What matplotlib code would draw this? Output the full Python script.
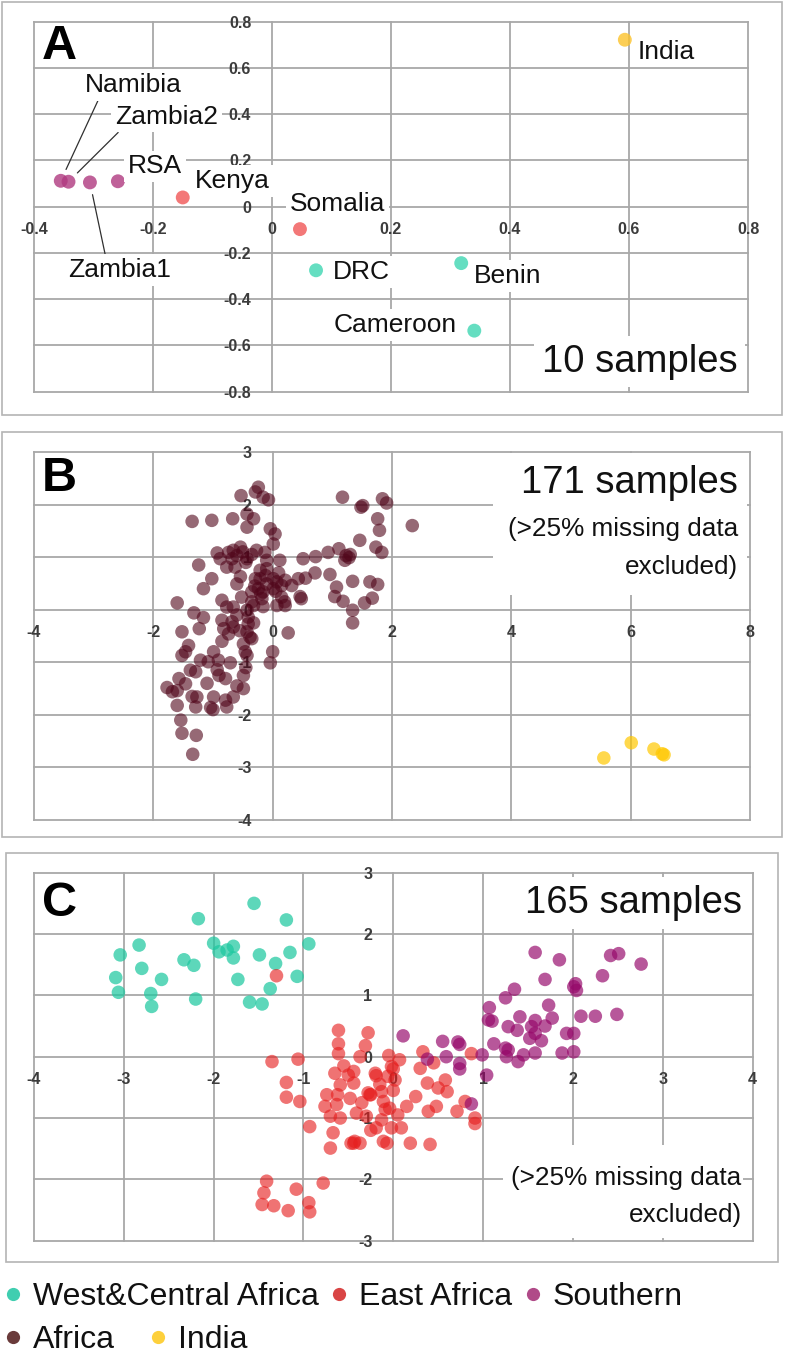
import matplotlib.pyplot as plt
from matplotlib.lines import Line2D
from matplotlib.patches import Rectangle
from matplotlib.ticker import FuncFormatter

plt.rcParams['font.family'] = ['Liberation Sans', 'DejaVu Sans']

# ---------------- data ----------------
# panel A (10 samples)
a_names = ['Namibia', 'Zambia2', 'Zambia1', 'RSA', 'Kenya', 'Somalia',
           'DRC', 'Benin', 'Cameroon', 'India']
a_group = ['S', 'S', 'S', 'S', 'E', 'E', 'W', 'W', 'W', 'I']
a_x = [-0.355, -0.342, -0.306, -0.259, -0.150, 0.047, 0.074, 0.318, 0.340, 0.593]
a_y = [0.112, 0.108, 0.105, 0.110, 0.040, -0.097, -0.275, -0.244, -0.536, 0.722]
a_lab_x = [-0.314, -0.264, -0.343, -0.242, -0.129, 0.030, 0.103, 0.339, 0.104, 0.615]
a_lab_y = [0.527, 0.390, -0.275, 0.174, 0.110, 0.013, -0.284, -0.300, -0.510, 0.671]
a_xticks = [-0.4, -0.2, 0, 0.2, 0.4, 0.6, 0.8]
a_yticks = [-0.8, -0.6, -0.4, -0.2, 0, 0.2, 0.4, 0.6, 0.8]

# panel B (171 samples): Africa + India
b_africa = [
    (-0.24, 2.33), (-0.29, 2.24), (-0.16, 2.14), (-0.07, 2.09), (-0.53, 2.17), (1.17, 2.14),
    (1.51, 1.98), (1.48, 1.95), (1.84, 2.11), (1.91, 2.03), (2.34, 1.60),
    (-1.35, 1.68), (-1.02, 1.70), (-0.67, 1.73), (-0.43, 1.82), (-0.32, 1.73), (-0.43, 1.57),
    (-0.04, 1.54), (0.04, 1.44), (0.01, 1.25),
    (1.76, 1.73), (1.79, 1.51), (1.46, 1.32), (1.73, 1.19), (1.83, 1.09),
    (-0.27, 1.13), (-0.13, 1.09), (-0.54, 1.19), (-0.66, 1.13), (-0.74, 1.09), (-0.93, 1.08),
    (-0.60, 1.03), (-0.68, 0.97), (-0.43, 0.97), (0.12, 0.94),
    (0.51, 0.97), (0.72, 1.01), (0.93, 1.09), (1.11, 1.16), (1.23, 1.03), (1.21, 0.94), (1.28, 0.99),
    (-1.24, 0.85), (-0.77, 0.81), (-0.63, 0.81), (-0.10, 0.78), (-0.54, 0.63), (-1.02, 0.59),
    (-0.60, 0.49), (-1.16, 0.40),
    (-0.21, 0.59), (0.01, 0.59), (0.07, 0.53), (-0.10, 0.49), (-0.24, 0.40), (-0.16, 0.34),
    (-0.35, 0.34), (0.21, 0.56), (0.43, 0.59), (0.32, 0.46),
    (0.71, 0.70), (0.96, 0.67), (1.07, 0.43), (1.34, 0.54), (1.63, 0.53), (1.76, 0.48),
    (1.04, 0.25), (1.18, 0.16), (1.54, 0.13), (1.67, 0.22), (1.34, -0.01), (1.34, -0.25),
    (0.46, 0.25), (0.48, 0.21), (0.15, 0.24), (0.21, 0.08), (0.07, 0.08), (-0.16, 0.06),
    (-0.32, 0.08), (-0.85, 0.18), (-1.60, 0.13), (-0.66, 0.05), (-0.77, 0.05), (-0.43, -0.01),
    (-1.32, -0.06), (-1.16, -0.15), (-0.85, -0.20), (-0.68, -0.23), (-0.66, -0.33), (-0.41, -0.27),
    (-0.32, -0.25), (-0.82, -0.36), (-0.74, -0.46), (-1.23, -0.36), (-1.52, -0.42),
    (-0.43, -0.42), (-0.38, -0.52), (0.26, -0.44), (-0.49, -0.65), (-1.41, -0.68), (-1.46, -0.80),
    (-0.46, -0.80), (-1.52, -0.87), (-0.99, -0.80), (-1.21, -0.96), (-1.08, -0.99),
    (-0.91, -0.96), (-0.71, -1.01), (-0.43, -0.87), (0.00, -0.80), (-0.04, -1.01), (-1.38, -1.15),
    (-1.29, -1.18), (-0.93, -1.14), (-0.79, -1.31), (-0.49, -1.25), (-1.57, -1.31),
    (-1.46, -1.41), (-1.77, -1.48), (-1.68, -1.56), (-1.60, -1.54), (-1.27, -1.66), (-0.99, -1.66),
    (-0.79, -1.72), (-0.66, -1.66), (-0.49, -1.50), (-1.60, -1.82), (-1.29, -1.85),
    (-1.04, -1.86), (-0.77, -1.85), (-1.54, -2.10), (-1.52, -2.35), (-1.28, -2.39), (-1.34, -2.75),
    (-0.29, 0.59), (-0.21, 0.75), (-0.10, 0.94), (0.15, 0.46), (0.01, 0.40), (-0.18, 0.21),
    (-0.35, 0.15), (-0.52, 0.24), (-0.88, 0.97), (-0.41, -0.14),
    (-0.35, 1.05), (-0.50, 1.10), (-0.45, 0.90), (-0.20, 0.30), (-0.30, 0.45), (0.05, 0.35),
    (-0.12, 0.65), (0.10, 0.70), (-0.60, -0.10), (-0.55, -0.40), (-0.35, -0.55),
    (-0.45, -1.10), (-0.90, -1.25), (-1.10, -1.40), (-1.35, -1.65), (-0.60, -1.45), (-1.00, -1.90),
    (-0.85, -0.60), (0.20, 0.15), (0.55, 0.60), (1.30, 1.05),
]
b_india = [(5.55, -2.82), (6.01, -2.53), (6.39, -2.65), (6.53, -2.74), (6.56, -2.76)]
b_xticks = [-4, -2, 0, 2, 4, 6, 8]
b_yticks = [-4, -3, -2, -1, 0, 1, 2, 3]

# panel C (165 samples)
c_west = [
    (-1.55, 2.50), (-2.17, 2.25), (-1.19, 2.23), (-2.83, 1.82), (-3.04, 1.66), (-2.00, 1.85),
    (-1.94, 1.71), (-1.85, 1.74), (-1.78, 1.80), (-1.78, 1.61), (-1.49, 1.66), (-1.15, 1.70),
    (-0.94, 1.84), (-1.31, 1.52), (-2.33, 1.58), (-2.22, 1.49), (-2.80, 1.44), (-3.09, 1.29),
    (-2.58, 1.26), (-1.73, 1.26), (-1.07, 1.31), (-3.06, 1.05), (-2.70, 1.03), (-2.69, 0.82),
    (-2.20, 0.94), (-1.60, 0.89), (-1.46, 0.86), (-1.37, 1.11),
]
c_east = [
    (-1.35, -0.08), (-1.06, -0.04), (-1.19, -0.42), (-1.19, -0.66), (-1.04, -0.73), (-0.93, -1.14),
    (-0.61, 0.43), (-0.61, 0.21), (-0.61, 0.05), (-0.28, 0.39), (-0.31, 0.18), (-0.37, 0.00),
    (-0.65, -0.27), (-0.44, -0.24), (-0.59, -0.46), (-0.44, -0.43), (-0.19, -0.31), (-0.74, -0.62),
    (-0.76, -0.81), (-0.63, -0.78), (-0.48, -0.68), (-0.26, -0.62), (-0.11, -0.73), (-0.70, -0.97),
    (-0.59, -1.00), (-0.41, -0.92), (-0.30, -0.97), (-0.19, -1.16), (-0.67, -1.24), (-0.70, -1.49),
    (-0.44, -1.41), (-0.37, -1.41), (-0.07, -1.41), (-1.30, 1.32),
    (-1.41, -2.03), (-1.44, -2.22), (-1.46, -2.41), (-1.33, -2.43), (-1.17, -2.51), (-1.08, -2.16),
    (-0.94, -2.38), (-0.93, -2.53), (-0.78, -2.06),
    (-0.02, -0.16), (0.07, -0.05), (-0.06, -0.32), (0.02, -0.38), (0.30, -0.19), (0.33, 0.08),
    (0.38, -0.43), (0.50, -0.51), (0.58, -0.38), (0.60, -0.57), (0.15, -0.81), (0.39, -0.89),
    (0.48, -0.81), (0.71, -0.89), (0.80, -0.73), (0.91, -1.00), (0.91, -1.09), (0.87, 0.05),
    (0.19, -1.41), (0.41, -1.43), (-0.13, -0.57), (-0.28, -0.59), (-0.09, -0.86), (-0.04, -0.84),
    (-0.13, -1.03), (-0.02, -1.16), (0.09, -1.16), (-0.11, -1.38), (-0.43, -1.38), (-0.20, -0.27),
    (-0.25, -0.62), (-0.62, -0.62), (-0.05, 0.02), (0.00, -0.55), (-0.35, -0.75), (-0.50, -0.30),
    (-0.15, -0.45), (0.25, -0.65), (0.05, -0.95), (-0.25, -1.20), (-0.55, -0.15), (0.45, -0.10),
    (-0.47, -1.41), (0.00, -0.20),
]
c_south = [
    (1.58, 1.70), (1.85, 1.58), (2.42, 1.65), (2.51, 1.68), (2.76, 1.51), (1.69, 1.26),
    (2.33, 1.32), (2.03, 1.19), (2.04, 1.08), (2.01, 1.14), (1.35, 1.10), (1.25, 0.96),
    (1.07, 0.80), (1.73, 0.84), (2.09, 0.66), (2.25, 0.66), (2.49, 0.69), (1.77, 0.63),
    (1.41, 0.65), (1.58, 0.59), (1.69, 0.50), (1.10, 0.58), (1.06, 0.60), (1.28, 0.49),
    (1.38, 0.43), (1.54, 0.49), (1.58, 0.38), (1.52, 0.30), (1.65, 0.26), (1.93, 0.38),
    (2.01, 0.38), (1.12, 0.21), (1.25, 0.14), (1.28, 0.11), (1.26, 0.00), (1.39, -0.08),
    (1.45, 0.03), (1.58, 0.06), (1.88, 0.06), (2.01, 0.08), (0.11, 0.34), (0.38, -0.04),
    (0.55, 0.25), (0.72, 0.24), (0.74, 0.20), (0.59, 0.00), (0.74, -0.11), (0.74, -0.20),
    (0.99, 0.03), (1.04, -0.30), (0.87, -0.77),
]
c_xticks = [-4, -3, -2, -1, 0, 1, 2, 3, 4]
c_yticks = [-3, -2, -1, 0, 1, 2, 3]

leg_labels = ['West&Central Africa', 'East Africa', 'Southern', 'Africa', 'India']
leg_colors = ['#40ceb0', '#d94545', '#b04a88', '#6a3b3b', '#fdd03c']

# colours used on the plots
col_a = {'W': '#3ed6b2', 'E': '#f05656', 'S': '#b03a80', 'I': '#fcc22a'}
col_africa = '#50051a'
col_india = '#ffc800'
col_west = '#1ec8a0'
col_east = '#e61e1e'
col_south = '#96086a'

# ---------------- figure ----------------
W, H = 786, 1355
fig = plt.figure(figsize=(W / 100, H / 100), dpi=100)


def rect(x0, y0, x1, y1):
    return [x0 / W, 1 - y1 / H, (x1 - x0) / W, (y1 - y0) / H]


def frame(x0, y0, x1, y1):
    r = rect(x0, y0, x1, y1)
    fig.add_artist(Rectangle((r[0], r[1]), r[2], r[3], transform=fig.transFigure,
                             fill=False, ec='#b4b4b4', lw=1.2))


def setup(ax, xticks, yticks):
    ax.set_xlim(xticks[0], xticks[-1])
    ax.set_ylim(yticks[0], yticks[-1])
    ax.set_xticks(xticks)
    ax.set_yticks(yticks)
    fmt = FuncFormatter(lambda v, p: f'{v:g}')
    ax.xaxis.set_major_formatter(fmt)
    ax.yaxis.set_major_formatter(fmt)
    ax.spines['left'].set_position(('data', 0))
    ax.spines['bottom'].set_position(('data', 0))
    for s in ax.spines.values():
        s.set_visible(False)
    ax.grid(True, color='#a8a8a8', lw=1.3)
    for l in ax.get_xgridlines() + ax.get_ygridlines():
        l.set_clip_on(False)
    ax.set_axisbelow(True)
    ax.tick_params(length=0, labelsize=11.5, labelcolor='#3c3c3c')
    for lab in ax.get_xticklabels() + ax.get_yticklabels():
        lab.set_fontweight('bold')
    ax.tick_params(axis='x', pad=11)
    ax.tick_params(axis='y', pad=15)
    ax.set_facecolor('none')


def white_patch(ax, x0, y0, x1, y1):
    ax.add_patch(Rectangle((x0, y0), x1 - x0, y1 - y0, transform=ax.transAxes,
                           fc='white', ec='none', zorder=2, clip_on=False))


box = dict(boxstyle='square,pad=0.15', fc='white', ec='none')

# ---- panel A ----
frame(2, 2, 782, 415)
axA = fig.add_axes(rect(34, 21.7, 748, 391.7))
setup(axA, a_xticks, a_yticks)
axA.scatter(a_x, a_y, s=100, c=[col_a[g] for g in a_group], alpha=0.8,
            edgecolors='none', zorder=3)
leaders = {'Namibia': (0.15, 0), 'Zambia2': (0.07, 0), 'Zambia1': (0.37, 1)}
for i, name in enumerate(a_names):
    kw = {}
    if name in leaders:
        kw['arrowprops'] = dict(arrowstyle='-', color='#303030', lw=0.9,
                                relpos=leaders[name], shrinkA=0, shrinkB=9)
    axA.annotate(name, xy=(a_x[i], a_y[i]), xytext=(a_lab_x[i], a_lab_y[i]),
                 ha='left', va='center', fontsize=19, color='#111111',
                 bbox=box, zorder=4, **kw)
axA.text(0.011, 0.932, 'A', transform=axA.transAxes, fontsize=35,
         fontweight='bold', ha='left', va='center')
axA.text(0.985, 0.081, '10 samples', transform=axA.transAxes, fontsize=27.5,
         ha='right', va='center', color='#111111',
         bbox=dict(boxstyle='square,pad=0.2', fc='white', ec='none'))

# ---- panel B ----
frame(2, 432, 782, 837)
axB = fig.add_axes(rect(34, 452, 750, 820))
setup(axB, b_xticks, b_yticks)
white_patch(axB, 0.641, 0.611, 0.996, 0.998)
axB.scatter([p[0] for p in b_africa], [p[1] for p in b_africa], s=95,
            color=col_africa, alpha=0.6, edgecolors='none', zorder=3)
axB.scatter([p[0] for p in b_india], [p[1] for p in b_india], s=95,
            color=col_india, alpha=0.7, edgecolors='none', zorder=3)
axB.text(0.011, 0.929, 'B', transform=axB.transAxes, fontsize=35,
         fontweight='bold', ha='left', va='center')
axB.text(0.983, 0.916, '171 samples', transform=axB.transAxes, fontsize=27.5,
         ha='right', va='center', color='#111111', zorder=5)
axB.text(0.983, 0.74, '(>25% missing data\nexcluded)', transform=axB.transAxes,
         fontsize=18.8, ha='right', va='center', multialignment='right',
         linespacing=1.72, color='#111111', zorder=5)

# ---- panel C ----
frame(6, 853, 778, 1262)
axC = fig.add_axes(rect(34, 872.7, 752.5, 1240.7))
setup(axC, c_xticks, c_yticks)
white_patch(axC, 0.653, 0.007, 0.987, 0.26)
axC.scatter([p[0] for p in c_west], [p[1] for p in c_west], s=95,
            color=col_west, alpha=0.72, edgecolors='none', zorder=3)
axC.scatter([p[0] for p in c_east], [p[1] for p in c_east], s=95,
            color=col_east, alpha=0.62, edgecolors='none', zorder=3)
axC.scatter([p[0] for p in c_south], [p[1] for p in c_south], s=95,
            color=col_south, alpha=0.68, edgecolors='none', zorder=3)
axC.text(0.011, 0.915, 'C', transform=axC.transAxes, fontsize=35,
         fontweight='bold', ha='left', va='center')
axC.text(0.985, 0.918, '165 samples', transform=axC.transAxes, fontsize=27.5,
         ha='right', va='center', color='#111111',
         bbox=dict(boxstyle='square,pad=0.2', fc='white', ec='none'), zorder=5)
axC.text(0.985, 0.12, '(>25% missing data\nexcluded)', transform=axC.transAxes,
         fontsize=18.8, ha='right', va='center', multialignment='right',
         linespacing=1.72, color='#111111', zorder=5)

# ---- legend ----
def handle(c):
    return Line2D([], [], ls='none', marker='o', ms=9.5, mfc=c, mec='none')


fig.legend([handle(c) for c in leg_colors[:3]], leg_labels[:3], loc='center left',
           bbox_to_anchor=(0, 1 - 1297 / H), ncol=3, frameon=False, fontsize=23,
           handlelength=0.8, handletextpad=0.22, columnspacing=0.25,
           borderpad=0, borderaxespad=0, labelcolor='#111111')
fig.legend([handle(c) for c in leg_colors[3:]], leg_labels[3:], loc='center left',
           bbox_to_anchor=(0, 1 - 1340 / H), ncol=2, frameon=False, fontsize=23,
           handlelength=0.8, handletextpad=0.22, columnspacing=0.95,
           borderpad=0, borderaxespad=0, labelcolor='#111111')

fig.savefig('out.png', dpi=100)
